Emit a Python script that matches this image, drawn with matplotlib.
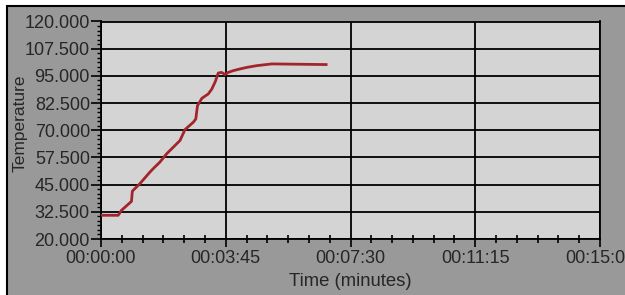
import numpy as np
import matplotlib
matplotlib.use('Agg')
import matplotlib.pyplot as plt
from matplotlib.ticker import MultipleLocator, FuncFormatter
from matplotlib.patches import Rectangle

# time in seconds, temperature
time_s = [0, 31, 37, 55, 56.5, 70, 88, 94, 106, 118.5, 142.5, 151.5, 166.5, 171,
          174, 182, 193.5, 200, 206, 211.5, 217.5, 224, 229.5, 238.5, 251, 263,
          281, 308, 406]
temp = [30.9, 30.9, 33.2, 37.3, 42.0, 45.4, 50.7, 52.3, 55.3, 59.2, 65.3, 70.3,
        73.7, 75.2, 81.3, 84.7, 86.7, 89.0, 92.3, 96.3, 96.6, 95.6, 96.6, 97.4,
        98.2, 98.9, 99.7, 100.5, 100.2]

txt = '#262626'
fig = plt.figure(figsize=(6.25, 2.95), dpi=100, facecolor='white')
fig.patches.append(Rectangle((7 / 625, -0.1), 1.1, 1 - 6.5 / 295 + 0.1,
                             transform=fig.transFigure, facecolor='#999999',
                             edgecolor='black', linewidth=1.5, zorder=-10))

ax = fig.add_axes([101 / 625, 1 - 239 / 295, 499 / 625, 217.5 / 295])
ax.set_facecolor('#d4d4d4')
ax.plot(time_s, temp, color='#a3252c', linewidth=2, zorder=3)

ax.set_xlim(0, 900)
ax.set_ylim(20, 120)
ax.xaxis.set_major_locator(MultipleLocator(225))
ax.xaxis.set_minor_locator(MultipleLocator(37.5))
ax.yaxis.set_major_locator(MultipleLocator(12.5, offset=20))
ax.yaxis.set_minor_locator(MultipleLocator(12.5 / 6, offset=20))

def hms(v, pos):
    v = int(round(v))
    return '%02d:%02d:%02d' % (v // 3600, (v % 3600) // 60, v % 60)

ax.xaxis.set_major_formatter(FuncFormatter(hms))
ax.yaxis.set_major_formatter(FuncFormatter(lambda v, p: '%.3f' % v))

ax.grid(True, which='major', color='black', linewidth=1.3, zorder=1)
for s in ax.spines.values():
    s.set_color('black')
    s.set_linewidth(1.3)

ax.tick_params(axis='both', which='major', labelsize=13, labelcolor=txt,
               color='black', width=1.2)
ax.tick_params(axis='x', which='major', direction='out', length=6, pad=2)
ax.tick_params(axis='x', which='minor', direction='inout', length=6, width=1.2)
ax.tick_params(axis='y', which='major', direction='out', length=7, pad=1)
ax.tick_params(axis='y', which='minor', direction='out', length=3, width=1)

for lab in ax.get_xticklabels() + ax.get_yticklabels():
    lab.set_family('Liberation Sans')

ax.set_xlabel('Time (minutes)', fontsize=13.3, color=txt, family='Liberation Sans',
              labelpad=4)
ax.set_ylabel('Temperature', fontsize=12.5, color=txt, family='Liberation Sans')
ax.yaxis.set_label_coords(-0.148, 0.53)

fig.savefig('out.png', dpi=100, facecolor=fig.get_facecolor())
